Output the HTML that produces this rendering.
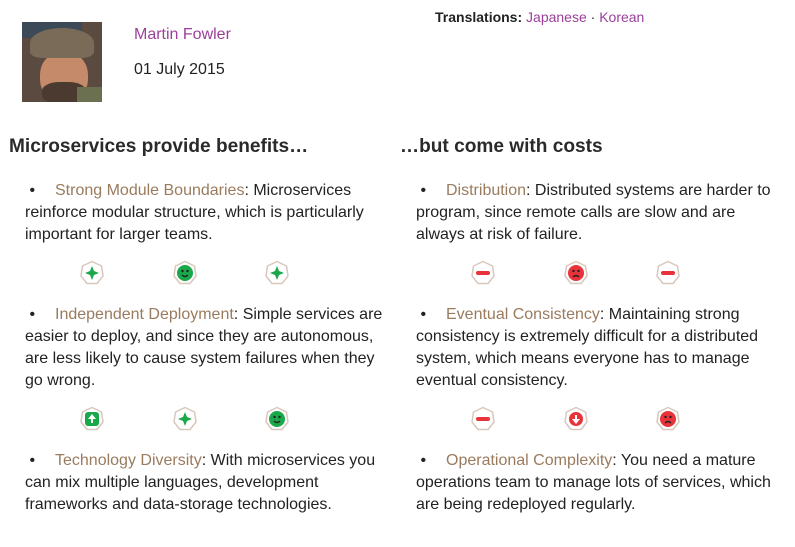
<!DOCTYPE html>
<html><head><meta charset="utf-8"><style>
body{margin:0;width:795px;height:547px;background:#fff;font-family:"Liberation Sans",sans-serif;color:#222;position:relative;overflow:hidden}
.a{position:absolute}
.p{font-size:16px;line-height:22px;white-space:nowrap}
.l{color:#9a7b5e;text-decoration:none}
h2{position:absolute;margin:0;font-size:19.1px;font-weight:bold;color:#2a2a2a}
.b{display:inline-block;width:30px;text-indent:0}
svg.i{position:absolute;width:26px;height:26px}
</style></head><body>
<div class="a" style="left:22px;top:22px;width:80px;height:80px;background:#5a4a40;overflow:hidden">
<div style="position:absolute;left:0;top:0;width:60px;height:16px;background:#3c4a58"></div>
<div style="position:absolute;left:18px;top:30px;width:48px;height:50px;border-radius:45%;background:#c48a6a"></div>
<div style="position:absolute;left:20px;top:60px;width:44px;height:22px;border-radius:40%;background:#4a3a30"></div>
<div style="position:absolute;left:8px;top:6px;width:64px;height:30px;border-radius:50% 50% 20% 20%;background:#7a6a58"></div>
<div style="position:absolute;left:55px;top:65px;width:25px;height:15px;background:#6a7050"></div>
</div>
<div class="a p" style="left:134px;top:24px;color:#9b3f9b">Martin Fowler</div>
<div class="a p" style="left:134px;top:59px">01 July 2015</div>
<div class="a" style="left:435px;top:8px;font-size:14px;line-height:18px"><b>Translations:</b> <span style="color:#9b3f9b">Japanese</span> · <span style="color:#9b3f9b">Korean</span></div>
<h2 style="left:9px;top:136px">Microservices provide benefits…</h2>
<h2 style="left:400px;top:136px">…but come with costs</h2>

<div class="a p" style="left:25px;top:180px"><span class="b">&nbsp;•</span><a class="l">Strong Module Boundaries</a>: Microservices<br>reinforce modular structure, which is particularly<br>important for larger teams.</div>
<div class="a p" style="left:25px;top:304px"><span class="b">&nbsp;•</span><a class="l">Independent Deployment</a>: Simple services are<br>easier to deploy, and since they are autonomous,<br>are less likely to cause system failures when they<br>go wrong.</div>
<div class="a p" style="left:25px;top:450px"><span class="b">&nbsp;•</span><a class="l">Technology Diversity</a>: With microservices you<br>can mix multiple languages, development<br>frameworks and data-storage technologies.</div>

<div class="a p" style="left:416px;top:180px"><span class="b">&nbsp;•</span><a class="l">Distribution</a>: Distributed systems are harder to<br>program, since remote calls are slow and are<br>always at risk of failure.</div>
<div class="a p" style="left:416px;top:304px"><span class="b">&nbsp;•</span><a class="l">Eventual Consistency</a>: Maintaining strong<br>consistency is extremely difficult for a distributed<br>system, which means everyone has to manage<br>eventual consistency.</div>
<div class="a p" style="left:416px;top:450px"><span class="b">&nbsp;•</span><a class="l">Operational Complexity</a>: You need a mature<br>operations team to manage lots of services, which<br>are being redeployed regularly.</div>

<div id="icons"></div>
<script>
const icons=[
[92,273,'plus'],[185,273,'smile'],[277,273,'plus'],
[92,419,'up'],[185,419,'plus'],[277,419,'smile'],
[483,273,'minus'],[576,273,'sad'],[668,273,'minus'],
[483,419,'minus'],[576,419,'down'],[668,419,'sad']];
const host=document.getElementById('icons');
icons.forEach(([x,y,t])=>{
 const g=t=='plus'||t=='smile'||t=='up'?'#1aa84a':'#e8333a';
 let inner='';
 if(t=='plus')inner=`<path d="M13 6 L15 11 L20 13 L15 15 L13 20 L11 15 L6 13 L11 11Z" fill="${g}"/>`;
 if(t=='minus')inner=`<rect x="6" y="11" width="14" height="4" rx="2" fill="${g}"/>`;
 if(t=='smile'||t=='sad')inner=`<circle cx="13" cy="13" r="8" fill="${g}"/><circle cx="10.5" cy="11" r="1.2" fill="#222"/><circle cx="15.5" cy="11" r="1.2" fill="#222"/><path d="${t=='smile'?'M10 15 Q13 18 16 15':'M10 17 Q13 14 16 17'}" stroke="#222" stroke-width="1.3" fill="none"/>`;
 if(t=='up'||t=='down')inner=`<rect x="6" y="6" width="14" height="14" rx="${t=='up'?3:7}" fill="${g}"/><path d="${t=='up'?'M13 8 L17 13 L14 13 L14 17 L12 17 L12 13 L9 13Z':'M13 18 L17 13 L14 13 L14 9 L12 9 L12 13 L9 13Z'}" fill="#fff"/>`;
 const d=document.createElement('div');
 d.innerHTML=`<svg class="i" viewBox="0 0 26 26" style="left:${x-13}px;top:${y-13}px"><path d="M13 1.5 L22.5 6 L24 16 L18 23.5 L8 23.5 L2 16 L3.5 6Z" fill="#fff" stroke="#d8c8bc" stroke-width="1.5" stroke-linejoin="round"/>${inner}</svg>`;
 const s=d.firstChild;
 
 
 host.appendChild(s);
});
</script>
</body></html>
